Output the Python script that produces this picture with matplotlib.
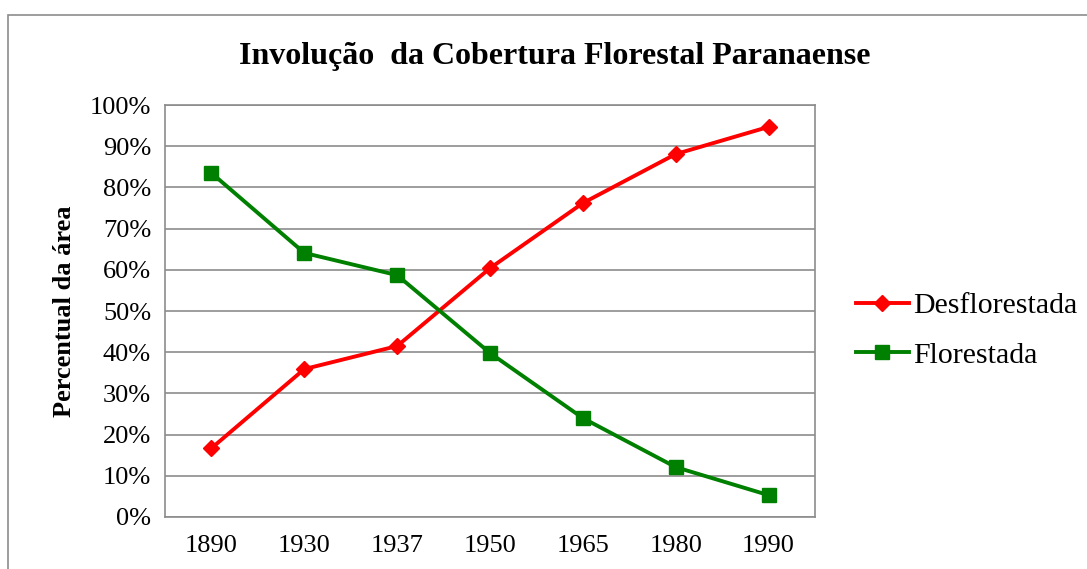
import matplotlib.pyplot as plt
from matplotlib.patches import Rectangle
from matplotlib.ticker import FuncFormatter

# dados
anos = ['1890', '1930', '1937', '1950', '1965', '1980', '1990']
desflorestada = [16.7, 35.9, 41.5, 60.4, 76.2, 88.1, 94.7]
florestada = [83.5, 64.1, 58.7, 39.8, 24.0, 12.1, 5.3]

plt.rcParams['font.family'] = ['Liberation Serif', 'DejaVu Serif']

fig = plt.figure(figsize=(10.87, 5.69), dpi=100)
ax = fig.add_axes([0.1518, 0.0914, 0.598, 0.724])

# borda do grafico
fig.patches.append(Rectangle((8/1087, -0.01), 1.0, 1 - 15/569 + 0.01,
                             transform=fig.transFigure, fill=False,
                             edgecolor='#8c8c8c', linewidth=1.2))

x = range(len(anos))
ax.plot(x, desflorestada, color='#ff0000', linewidth=2.8, marker='D',
        markersize=8, label='Desflorestada', zorder=3)
ax.plot(x, florestada, color='#008000', linewidth=2.8, marker='s',
        markersize=10, label='Florestada', zorder=3)

ax.set_xlim(-0.5, len(anos) - 0.5)
ax.set_ylim(0, 100)
ax.set_yticks(range(0, 101, 10))
ax.yaxis.set_major_formatter(FuncFormatter(lambda v, p: f'{int(v)}%'))
ax.set_xticks(list(x))
ax.set_xticklabels(anos)
ax.tick_params(axis='both', length=0, labelsize=19)
ax.tick_params(axis='y', pad=10)
ax.tick_params(axis='x', pad=13)
ax.grid(axis='y', color='#8c8c8c', linewidth=1.2)
ax.set_axisbelow(True)
for s in ax.spines.values():
    s.set_color('#8c8c8c')
    s.set_linewidth(1.2)

ax.set_ylabel('Percentual da área', fontsize=19, fontweight='bold', labelpad=10)
fig.text(0.51, 0.901, 'Involução  da Cobertura Florestal Paranaense',
         ha='center', va='center', fontsize=23, fontweight='bold')

fig.legend(loc='center left', bbox_to_anchor=(0.763, 0.419), frameon=False,
           fontsize=21.5, handlelength=1.75, handletextpad=0.15, labelspacing=0.75)

fig.savefig('out.png', dpi=100)
